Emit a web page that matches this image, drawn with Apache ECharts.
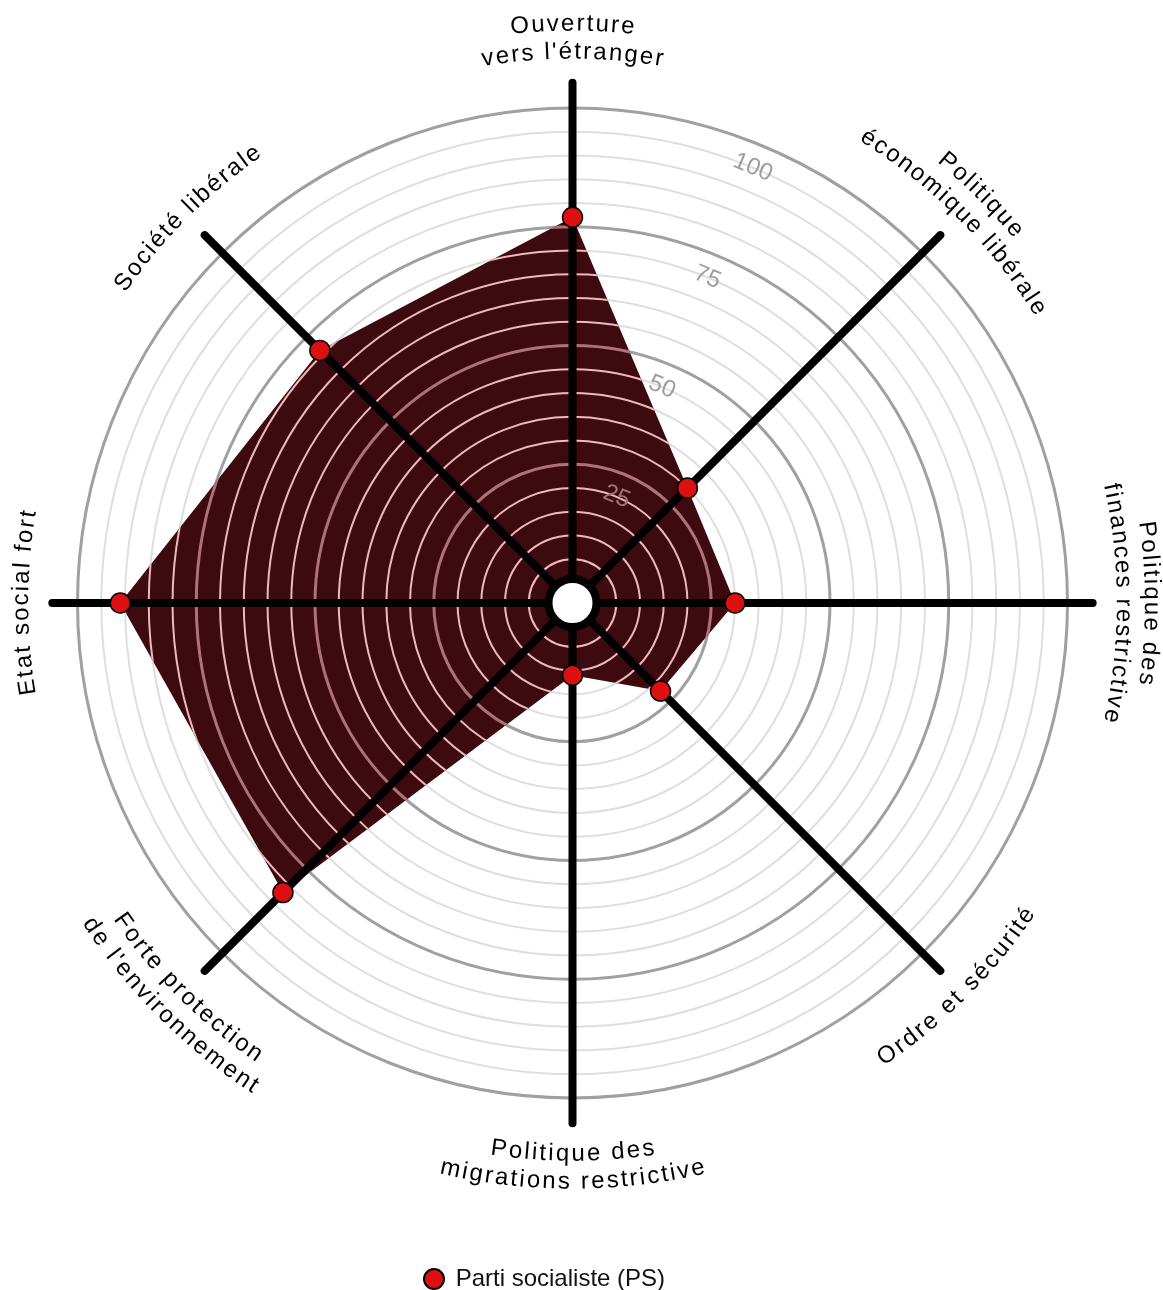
<!DOCTYPE html>
<html>
<head>
<meta charset="utf-8">
<script src="https://cdn.jsdelivr.net/npm/echarts@6/dist/echarts.min.js"></script>
<style>
html,body{margin:0;padding:0;background:#fff;}
#c{width:1163px;height:1290px;}
</style>
</head>
<body>
<div id="c"></div>
<script>
// ---------- data ----------
const categories = [
  ['Ouverture', "vers l'étranger"],
  ['Politique', 'économique libérale'],
  ['Politique des', 'finances restrictive'],
  ['Ordre et sécurité'],
  ['Politique des', 'migrations restrictive'],
  ['Forte protection', "de l'environnement"],
  ['Etat social fort'],
  ['Société libérale']
];
const axisAngles = [0, 45, 90, 135, 180, 225, 270, 315];
const seriesName = 'Parti socialiste (PS)';
const psValues = [77, 30, 30, 22, 11, 82, 91, 71];
const tickLabels = [25, 50, 75, 100];
const gridCircles = [5, 10, 15, 20, 25, 30, 35, 40, 45, 50, 55, 60, 65, 70, 75, 80, 85, 90, 95, 100];

// ---------- layout / style ----------
const CENTER = [572.5, 603];
const RADIUS = [20, 495];
const SPOKE_MAX = 105.3;
const TICK_ANGLE = 22.5;
const TICK_SHIFT = 5;
const LABEL_INNER = 551;
const LABEL_OUTER = 579;
const LABEL_FONT = '24px "Liberation Sans", Arial, sans-serif';
const LETTER_SPACING = 2.2;
const FILL_COLOR = '#3d0a0f';
const POINT_COLOR = '#dc1010';

const measureCtx = document.createElement('canvas').getContext('2d');
function measure(ch, font) { measureCtx.font = font; return measureCtx.measureText(ch).width; }

function arcText(cx, cy, text, R, thetaDeg, cw, font, spacing) {
  const chars = Array.from(text);
  const widths = chars.map(ch => measure(ch, font));
  const W = widths.reduce((a, b) => a + b, 0) + spacing * (chars.length - 1);
  const th = thetaDeg * Math.PI / 180;
  let cursor = 0;
  const els = [];
  chars.forEach((ch, i) => {
    const mid = cursor + widths[i] / 2;
    const phi = cw ? th - W / (2 * R) + mid / R : th + W / (2 * R) - mid / R;
    const x = cx + R * Math.sin(phi);
    const y = cy - R * Math.cos(phi);
    const rot = cw ? -phi : Math.PI - phi;
    if (ch !== ' ') {
      els.push({
        type: 'text', x: x, y: y, rotation: rot,
        style: { text: ch, font: font, fill: '#000', align: 'center', verticalAlign: 'middle' }
      });
    }
    cursor += widths[i] + spacing;
  });
  return els;
}

function pointInPoly(pt, poly) {
  let inside = false;
  for (let i = 0, j = poly.length - 1; i < poly.length; j = i++) {
    const xi = poly[i][0], yi = poly[i][1], xj = poly[j][0], yj = poly[j][1];
    if (((yi > pt[1]) !== (yj > pt[1])) && (pt[0] < (xj - xi) * (pt[1] - yi) / (yj - yi) + xi)) inside = !inside;
  }
  return inside;
}

const hiddenAngle = (idx) => ({
  polarIndex: idx, type: 'value', min: 0, max: 360, startAngle: 90, clockwise: true,
  axisLine: { show: false }, axisTick: { show: false }, axisLabel: { show: false }, splitLine: { show: false }
});

const chart = echarts.init(document.getElementById('c'));
const option = {
  animation: false,
  backgroundColor: '#ffffff',
  polar: [
    { center: CENTER, radius: RADIUS },
    { center: CENTER, radius: RADIUS }
  ],
  angleAxis: [hiddenAngle(0), hiddenAngle(1)],
  radiusAxis: [
    { polarIndex: 0, type: 'value', min: 0, max: 100, interval: 5,
      axisLine: { show: false }, axisTick: { show: false }, axisLabel: { show: false },
      splitLine: { show: true, lineStyle: { color: '#dedede', width: 2 } } },
    { polarIndex: 1, type: 'value', min: 0, max: 100, interval: 25,
      axisLine: { show: false }, axisTick: { show: false }, axisLabel: { show: false },
      splitLine: { show: true, lineStyle: { color: '#a0a0a0', width: 3 } } }
  ],
  legend: {
    data: [seriesName],
    left: 418, top: 1262,
    icon: 'circle', itemWidth: 20, itemHeight: 20,
    selectedMode: false,
    formatter: (n) => ' ' + n,
    textStyle: { fontFamily: '"Liberation Sans", Arial, sans-serif', fontSize: 24, color: '#111' }
  },
  series: [
    { // filled area
      type: 'custom', coordinateSystem: 'polar', polarIndex: 0, zlevel: 1, z: 1, silent: true,
      data: [[0, 0]],
      renderItem: function (params, api) {
        const pts = psValues.map((v, i) => api.coord([v, axisAngles[i]]));
        return { type: 'polygon', shape: { points: pts }, style: { fill: FILL_COLOR, stroke: 'none' } };
      }
    },
    { // grid circles seen through the fill (clipped to the area)
      type: 'custom', coordinateSystem: 'polar', polarIndex: 0, zlevel: 1, z: 2, silent: true,
      data: [[0, 0]],
      renderItem: function (params, api) {
        const cs = params.coordSys;
        const pts = psValues.map((v, i) => api.coord([v, axisAngles[i]]));
        const children = gridCircles.map(v => {
          const p = api.coord([v, 0]);
          const r = Math.hypot(p[0] - cs.cx, p[1] - cs.cy);
          const major = v % 25 === 0;
          return { type: 'circle', shape: { cx: cs.cx, cy: cs.cy, r: r },
            style: { fill: 'none', stroke: major ? '#ad737a' : '#eeb8bf', lineWidth: major ? 3 : 2 } };
        });
        return { type: 'group', clipPath: { type: 'polygon', shape: { points: pts } }, children: children };
      }
    },
    { // spokes
      type: 'custom', coordinateSystem: 'polar', polarIndex: 0, zlevel: 1, z: 3, silent: true,
      data: axisAngles.map(a => [SPOKE_MAX, a]),
      renderItem: function (params, api) {
        const cs = params.coordSys;
        const p = api.coord([api.value(0), api.value(1)]);
        return { type: 'line', shape: { x1: cs.cx, y1: cs.cy, x2: p[0], y2: p[1] },
          style: { stroke: '#000', lineWidth: 8, lineCap: 'round' } };
      }
    },
    { // center ring
      type: 'custom', coordinateSystem: 'polar', polarIndex: 0, zlevel: 1, z: 4, silent: true,
      data: [[0, 0]],
      renderItem: function (params, api) {
        const cs = params.coordSys;
        return { type: 'circle', shape: { cx: cs.cx, cy: cs.cy, r: cs.r0 + 4 },
          style: { fill: '#fff', stroke: '#000', lineWidth: 8 } };
      }
    },
    { // tick labels
      type: 'custom', coordinateSystem: 'polar', polarIndex: 0, zlevel: 1, z: 5, silent: true,
      data: tickLabels.map(v => [v, TICK_ANGLE]),
      renderItem: function (params, api) {
        const v = api.value(0);
        const p = api.coord([v - TICK_SHIFT, api.value(1)]);
        const poly = psValues.map((val, i) => api.coord([val, axisAngles[i]]));
        const inside = pointInPoly(p, poly);
        return { type: 'text', x: p[0], y: p[1], rotation: -TICK_ANGLE * Math.PI / 180,
          style: { text: String(v), font: '24px "Liberation Sans", Arial, sans-serif',
            fill: inside ? '#a0747a' : '#9d9d9d', align: 'center', verticalAlign: 'middle' } };
      }
    },
    { // axis names (curved)
      type: 'custom', coordinateSystem: 'polar', polarIndex: 0, zlevel: 1, z: 6, silent: true,
      data: [[0, 0]],
      renderItem: function (params, api) {
        const cs = params.coordSys;
        let children = [];
        categories.forEach((lines, i) => {
          const a = axisAngles[i];
          const cw = !(a > 90 && a < 270);
          let radii;
          if (lines.length === 1) radii = [LABEL_INNER];
          else radii = cw ? [LABEL_OUTER, LABEL_INNER] : [LABEL_INNER, LABEL_OUTER];
          lines.forEach((t, k) => {
            children = children.concat(arcText(cs.cx, cs.cy, t, radii[k], a, cw, LABEL_FONT, LETTER_SPACING));
          });
        });
        return { type: 'group', children: children };
      }
    },
    { // points
      name: seriesName,
      type: 'scatter', coordinateSystem: 'polar', polarIndex: 0, zlevel: 1, z: 10,
      symbol: 'circle', symbolSize: 20,
      itemStyle: { color: POINT_COLOR, borderColor: '#000', borderWidth: 1.5, opacity: 1 },
      data: psValues.map((v, i) => [v, axisAngles[i]])
    }
  ]
};
chart.setOption(option);
</script>
</body>
</html>
